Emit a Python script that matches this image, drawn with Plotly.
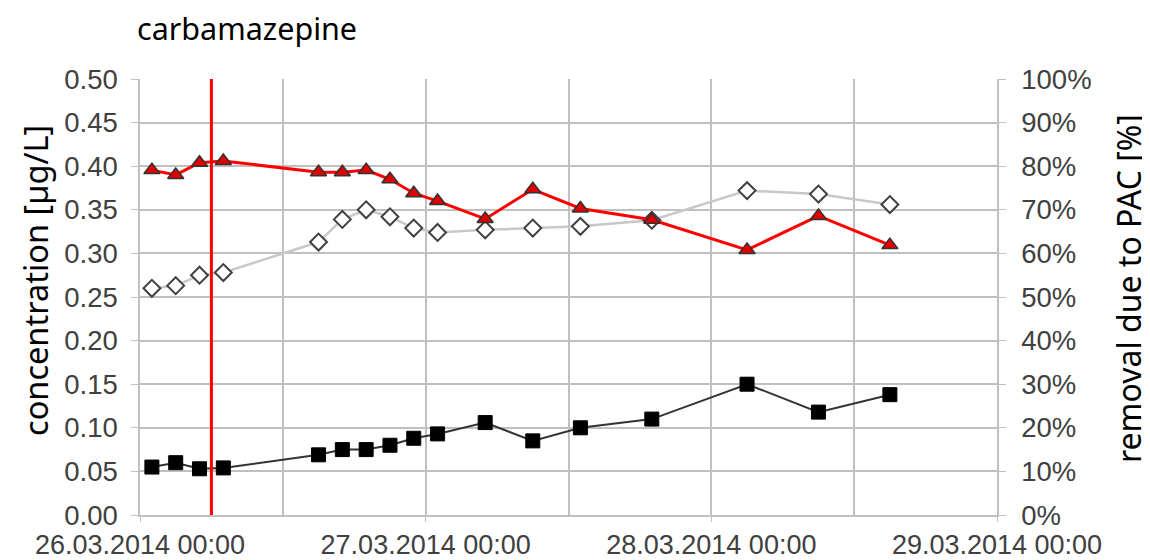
import pandas as pd
import plotly.graph_objects as go
from plotly.subplots import make_subplots

# sampling times
times = pd.to_datetime([
    "2014-03-26 01:00", "2014-03-26 03:00", "2014-03-26 05:00", "2014-03-26 07:00",
    "2014-03-26 15:00", "2014-03-26 17:00", "2014-03-26 19:00", "2014-03-26 21:00",
    "2014-03-26 23:00", "2014-03-27 01:00", "2014-03-27 05:00", "2014-03-27 09:00",
    "2014-03-27 13:00", "2014-03-27 19:00", "2014-03-28 03:00", "2014-03-28 09:00",
    "2014-03-28 15:00",
])

# concentrations [µg/L]
conc_before = [0.260, 0.263, 0.275, 0.278, 0.313, 0.339, 0.350, 0.342, 0.329, 0.324,
               0.327, 0.329, 0.331, 0.338, 0.372, 0.368, 0.356]
conc_after = [0.055, 0.060, 0.053, 0.054, 0.069, 0.075, 0.075, 0.080, 0.088, 0.093,
              0.106, 0.085, 0.100, 0.110, 0.150, 0.118, 0.138]

# removal due to PAC [%]
removal = [79.1, 78.0, 80.8, 81.2, 78.6, 78.6, 79.1, 77.0, 73.8, 72.0,
           67.9, 74.7, 70.3, 67.7, 60.8, 68.6, 61.9]

pac_start = pd.Timestamp("2014-03-26 06:00")

tick_font = dict(family="Liberation Sans, Arial", size=27.5, color="#404040")
grid = "#c0c0c0"

fig = make_subplots(specs=[[{"secondary_y": True}]])

fig.add_trace(go.Scatter(x=times, y=conc_before, mode="lines+markers",
                         line=dict(color="#c8c8c8", width=2.5),
                         marker=dict(symbol="diamond", size=13, color="white",
                                     line=dict(color="#404040", width=2)),
                         showlegend=False), secondary_y=False)

fig.add_trace(go.Scatter(x=times, y=conc_after, mode="lines+markers",
                         line=dict(color="#333333", width=2),
                         marker=dict(symbol="square", size=14, color="black",
                                     line=dict(color="black", width=1)),
                         showlegend=False), secondary_y=False)

fig.add_trace(go.Scatter(x=times, y=removal, mode="lines+markers",
                         line=dict(color="#ff0000", width=3),
                         marker=dict(symbol="triangle-up", size=14, color="#e00000",
                                     line=dict(color="#333333", width=1.5)),
                         showlegend=False), secondary_y=True)

# PAC dosing start
fig.add_shape(type="line", x0=pac_start, x1=pac_start, y0=0, y1=1,
              xref="x", yref="paper", line=dict(color="#ff0000", width=3))

fig.update_xaxes(domain=[0, 1], range=["2014-03-26 00:00", "2014-03-29 00:00"],
                 dtick=86400000, tick0="2014-03-26", tickformat="%d.%m.%Y %H:%M",
                 ticks="outside", ticklen=5, tickcolor=grid, ticklabelstandoff=0,
                 showgrid=True, gridcolor=grid, gridwidth=1.5,
                 minor=dict(dtick=43200000, showgrid=True, gridcolor=grid, gridwidth=1.5),
                 showline=True, linecolor=grid, linewidth=1.5,
                 tickfont=dict(tick_font, size=27), zeroline=False, automargin=False)

fig.update_yaxes(range=[0, 0.5], dtick=0.05, tickformat=".2f",
                 ticks="outside", ticklen=7, tickcolor=grid, ticklabelstandoff=8,
                 showgrid=True, gridcolor=grid, gridwidth=1.5,
                 showline=True, linecolor=grid, linewidth=1.5, zeroline=False,
                 tickfont=tick_font, automargin=False,
                 secondary_y=False)

fig.update_yaxes(range=[0, 100], dtick=10, ticksuffix="%",
                 ticks="outside", ticklen=7, tickcolor=grid, ticklabelstandoff=10,
                 showgrid=False, showline=True, linecolor=grid, linewidth=1.5,
                 zeroline=False, tickfont=tick_font, automargin=False,
                 secondary_y=True)

# axis titles
fig.add_annotation(text="concentration [µg/L]", textangle=-90, showarrow=False,
                   xref="paper", yref="paper", x=-0.1214, y=0.539,
                   xanchor="center", yanchor="middle",
                   font=dict(family="Noto Sans", size=32.5, color="black"))
fig.add_annotation(text="removal due to PAC [%]", textangle=-90, showarrow=False,
                   xref="paper", yref="paper", x=(1128 - 140) / 857, y=(515 - 289) / 436,
                   xanchor="center", yanchor="middle",
                   font=dict(family="Noto Sans", size=32, color="black"))

fig.update_layout(width=1142, height=552,
                  margin=dict(l=132, r=153, t=71, b=45),
                  plot_bgcolor="white", paper_bgcolor="white",
                  title=dict(text="carbamazepine", x=129 / 1142, xanchor="left",
                             y=1 - 21 / 552, yanchor="middle",
                             font=dict(family="Noto Sans", size=30.5, color="black")))

fig.write_html("out.html")
